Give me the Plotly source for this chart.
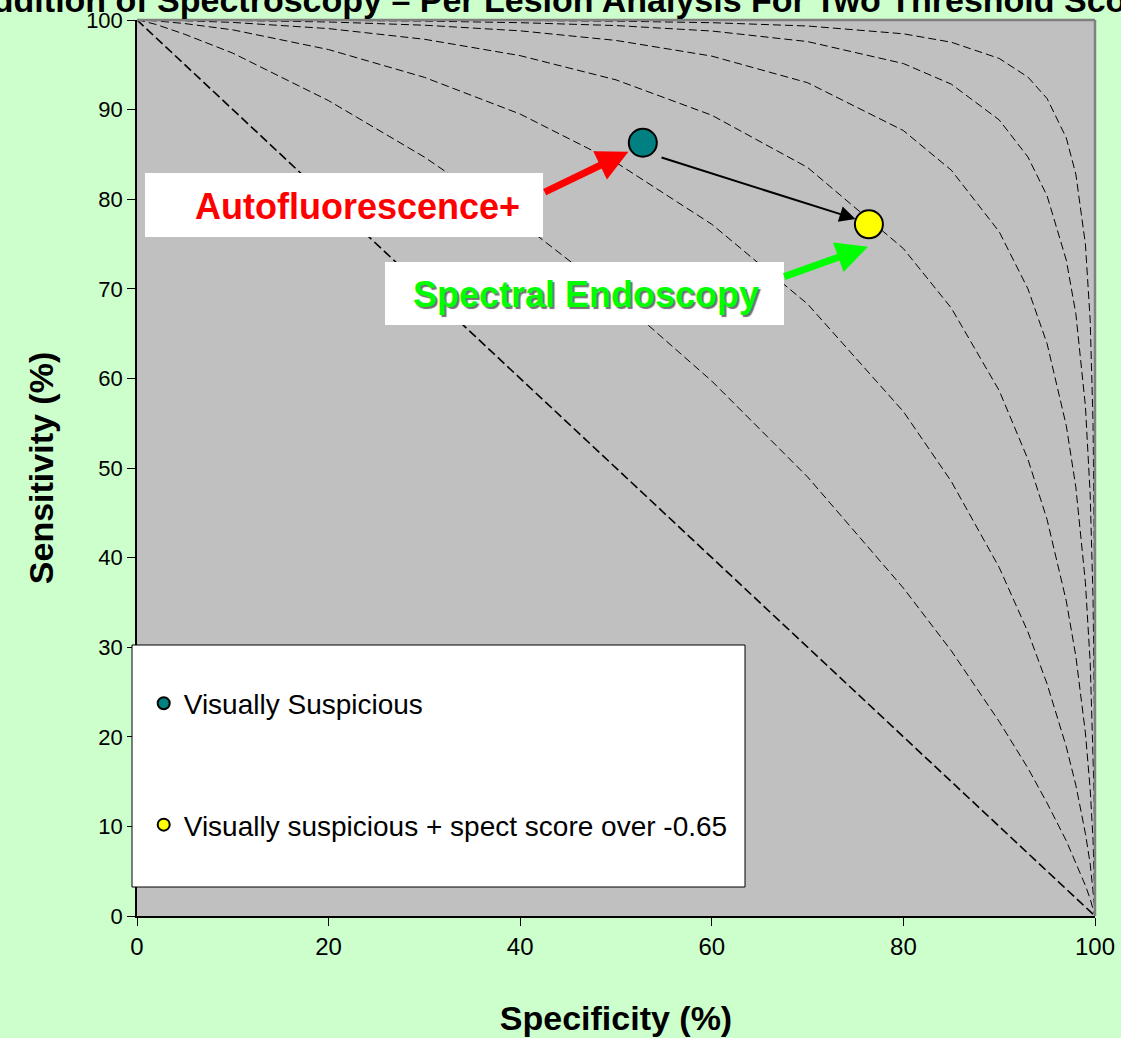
import plotly.graph_objects as go

# ---------------- data ----------------
SPEC = [0, 0.5, 2, 5, 10, 20, 30, 40, 50, 60, 70, 80, 85, 90, 93, 95, 97, 98,
        99, 99.5, 99.8, 99.9, 99.95, 99.99, 100]

SENS_C0 = [100, 99.5, 98, 95, 90, 80, 70, 60, 50, 40, 30, 20, 15, 10, 7, 5, 3, 2,
           1, 0.5, 0.2, 0.1, 0.05, 0.01, 0]
SENS_C1 = [100, 99.9, 99.5, 98.4, 96.3, 91.0, 84.7, 77.4, 69.1, 59.7, 49.0, 36.6,
           29.6, 21.7, 16.5, 12.6, 8.4, 6.0, 3.4, 1.9, 0.9, 0.5, 0.26, 0.06, 0]
SENS_C2 = [100, 99.98, 99.9, 99.6, 98.9, 96.7, 93.6, 89.5, 84.1, 77.2, 68.3, 56.3,
           48.5, 38.9, 31.7, 25.9, 18.9, 14.6, 9.2, 5.8, 3.0, 1.8, 1.1, 0.33, 0]
SENS_C3 = [100, 100, 99.98, 99.92, 99.73, 99.04, 97.85, 96.02, 93.32, 89.37, 83.54,
           74.49, 67.85, 58.64, 50.97, 44.24, 35.17, 28.99, 20.43, 14.10, 8.41,
           5.59, 3.67, 1.32, 0]
SENS_C4 = [100, 100, 100, 99.99, 99.95, 99.78, 99.42, 98.79, 97.72, 95.97, 93.00,
           87.66, 83.24, 76.37, 69.99, 63.87, 54.74, 47.86, 37.21, 28.24, 18.99,
           13.78, 9.84, 4.28, 0]
SENS_C5 = [100, 100, 100, 100, 99.99, 99.96, 99.88, 99.70, 99.38, 98.77, 97.59,
           95.14, 92.84, 88.85, 84.71, 80.37, 73.21, 67.23, 56.90, 46.98, 35.26,
           27.75, 21.46, 11.14, 0]
SENS_C6 = [100, 100, 100, 100, 100, 99.99, 99.98, 99.94, 99.87, 99.70, 99.33,
           98.46, 97.52, 95.71, 93.63, 91.23, 86.85, 82.80, 74.98, 66.43, 54.85,
           46.41, 38.57, 23.61, 0]

CURVES = [SENS_C0, SENS_C1, SENS_C2, SENS_C3, SENS_C4, SENS_C5, SENS_C6]

SERIES_NAMES = ["Visually Suspicious", "Visually suspicious + spect score over -0.65"]
SERIES_SPEC = [52.8, 76.4]
SERIES_SENS = [86.3, 77.2]
SERIES_COLORS = ["#008080", "#FFFF00"]

X_TICKS = [0, 20, 40, 60, 80, 100]
Y_TICKS = [0, 10, 20, 30, 40, 50, 60, 70, 80, 90, 100]

TITLE = "Addition of Spectroscopy \u2013 Per Lesion Analysis For Two Threshold Scores"
X_TITLE = "Specificity (%)"
Y_TITLE = "Sensitivity (%)"
LABEL_AF = "Autofluorescence+"
LABEL_SE = "Spectral Endoscopy"

FONT = "Liberation Sans, Arial, sans-serif"

fig = go.Figure()

for i, sens in enumerate(CURVES):
    fig.add_trace(go.Scatter(
        x=SPEC, y=sens, mode="lines", showlegend=False, hoverinfo="skip",
        line=dict(color="black", width=1.6 if i == 0 else 1,
                  dash="9px,4px" if i == 0 else "8px,4px"),
    ))

for i, name in enumerate(SERIES_NAMES):
    fig.add_trace(go.Scatter(
        x=[SERIES_SPEC[i]], y=[SERIES_SENS[i]], mode="markers", name=name,
        legendgroup=f"g{i}", cliponaxis=False,
        marker=dict(size=28, color=SERIES_COLORS[i], line=dict(color="black", width=2)),
    ))

W, H = 1121, 1038
L, R, T, B = 137, 26, 20, 122

fig.update_layout(
    width=W, height=H,
    margin=dict(l=L, r=R, t=T, b=B),
    paper_bgcolor="#CCFFCC", plot_bgcolor="#C0C0C0",
    font=dict(family=FONT, color="black"),
    title=dict(text=TITLE, x=0.511, xanchor="center", y=0.9995, yanchor="middle",
               yref="container",
               font=dict(family=FONT, size=34, color="black", weight="bold")),
    showlegend=True,
    legend=dict(x=0.007, y=0.265, xanchor="left", yanchor="top",
                bgcolor="rgba(0,0,0,0)", borderwidth=0,
                font=dict(family=FONT, size=28, color="black"),
                itemsizing="constant", tracegroupgap=82),
    xaxis=dict(range=[0, 100], tickvals=X_TICKS, showgrid=False, zeroline=False,
               automargin=False,
               showline=True, linecolor="black", linewidth=1.5,
               ticks="outside", ticklen=8, tickcolor="black", tickwidth=1,
               tickfont=dict(family=FONT, size=24),
               title=dict(text=X_TITLE, standoff=48,
                          font=dict(family=FONT, size=34, weight="bold"))),
    yaxis=dict(range=[0, 100], tickvals=Y_TICKS, showgrid=False, zeroline=False,
               automargin=False,
               showline=True, linecolor="black", linewidth=1.5,
               ticks="outside", ticklen=8, tickcolor="black", tickwidth=1,
               tickfont=dict(family=FONT, size=22),
               title=dict(text=Y_TITLE, standoff=22,
                          font=dict(family=FONT, size=34, weight="bold"))),
)

def px_x(p):
    return (p - L) / (W - L - R)

def px_y(p):
    return 1 - (p - T) / (H - T - B)

# gray frame on top / right
fig.add_shape(type="line", xref="x domain", yref="y domain", x0=0, x1=1, y0=1, y1=1,
              line=dict(color="#808080", width=2.5), layer="above")
fig.add_shape(type="line", xref="x domain", yref="y domain", x0=1, x1=1, y0=0, y1=1,
              line=dict(color="#808080", width=2.5), layer="above")

# legend box
fig.add_shape(type="rect", xref="paper", yref="paper",
              x0=px_x(132), x1=px_x(745), y0=px_y(887), y1=px_y(645),
              fillcolor="white", line=dict(color="black", width=1), layer="above")

# label boxes
fig.add_shape(type="rect", xref="paper", yref="paper",
              x0=px_x(145), x1=px_x(543), y0=px_y(237), y1=px_y(173),
              fillcolor="white", line=dict(width=0), layer="above")
fig.add_shape(type="rect", xref="paper", yref="paper",
              x0=px_x(385), x1=px_x(784), y0=px_y(325), y1=px_y(262),
              fillcolor="white", line=dict(width=0), layer="above")

fig.add_annotation(text=LABEL_AF, xref="paper", yref="paper",
                   x=px_x(357), y=px_y(206), xanchor="center", yanchor="middle",
                   showarrow=False,
                   font=dict(family=FONT, size=36, color="#FF0000", weight="bold"))
fig.add_annotation(text=LABEL_SE, xref="paper", yref="paper",
                   x=px_x(586), y=px_y(295), xanchor="center", yanchor="middle",
                   showarrow=False,
                   font=dict(family=FONT, size=36, color="#00FF00", weight="bold",
                             shadow="2px 2px 1px #707070"))

# arrows
fig.add_annotation(x=51.3, y=85.3, ax=42.4, ay=80.7, xref="x", yref="y",
                   axref="x", ayref="y", text="", showarrow=True,
                   arrowhead=2, arrowsize=0.9, arrowwidth=7, arrowcolor="#FF0000")
fig.add_annotation(x=76.3, y=74.7, ax=67.4, ay=71.3, xref="x", yref="y",
                   axref="x", ayref="y", text="", showarrow=True,
                   arrowhead=2, arrowsize=0.9, arrowwidth=7, arrowcolor="#00FF00")
fig.add_annotation(x=75.0, y=77.8, ax=54.6, ay=84.7, xref="x", yref="y",
                   axref="x", ayref="y", text="", showarrow=True,
                   arrowhead=2, arrowsize=1.6, arrowwidth=2, arrowcolor="black")

fig.write_html("out.html", config={"displayModeBar": False},
               post_script="document.body.style.margin='0';document.body.style.padding='0';")
